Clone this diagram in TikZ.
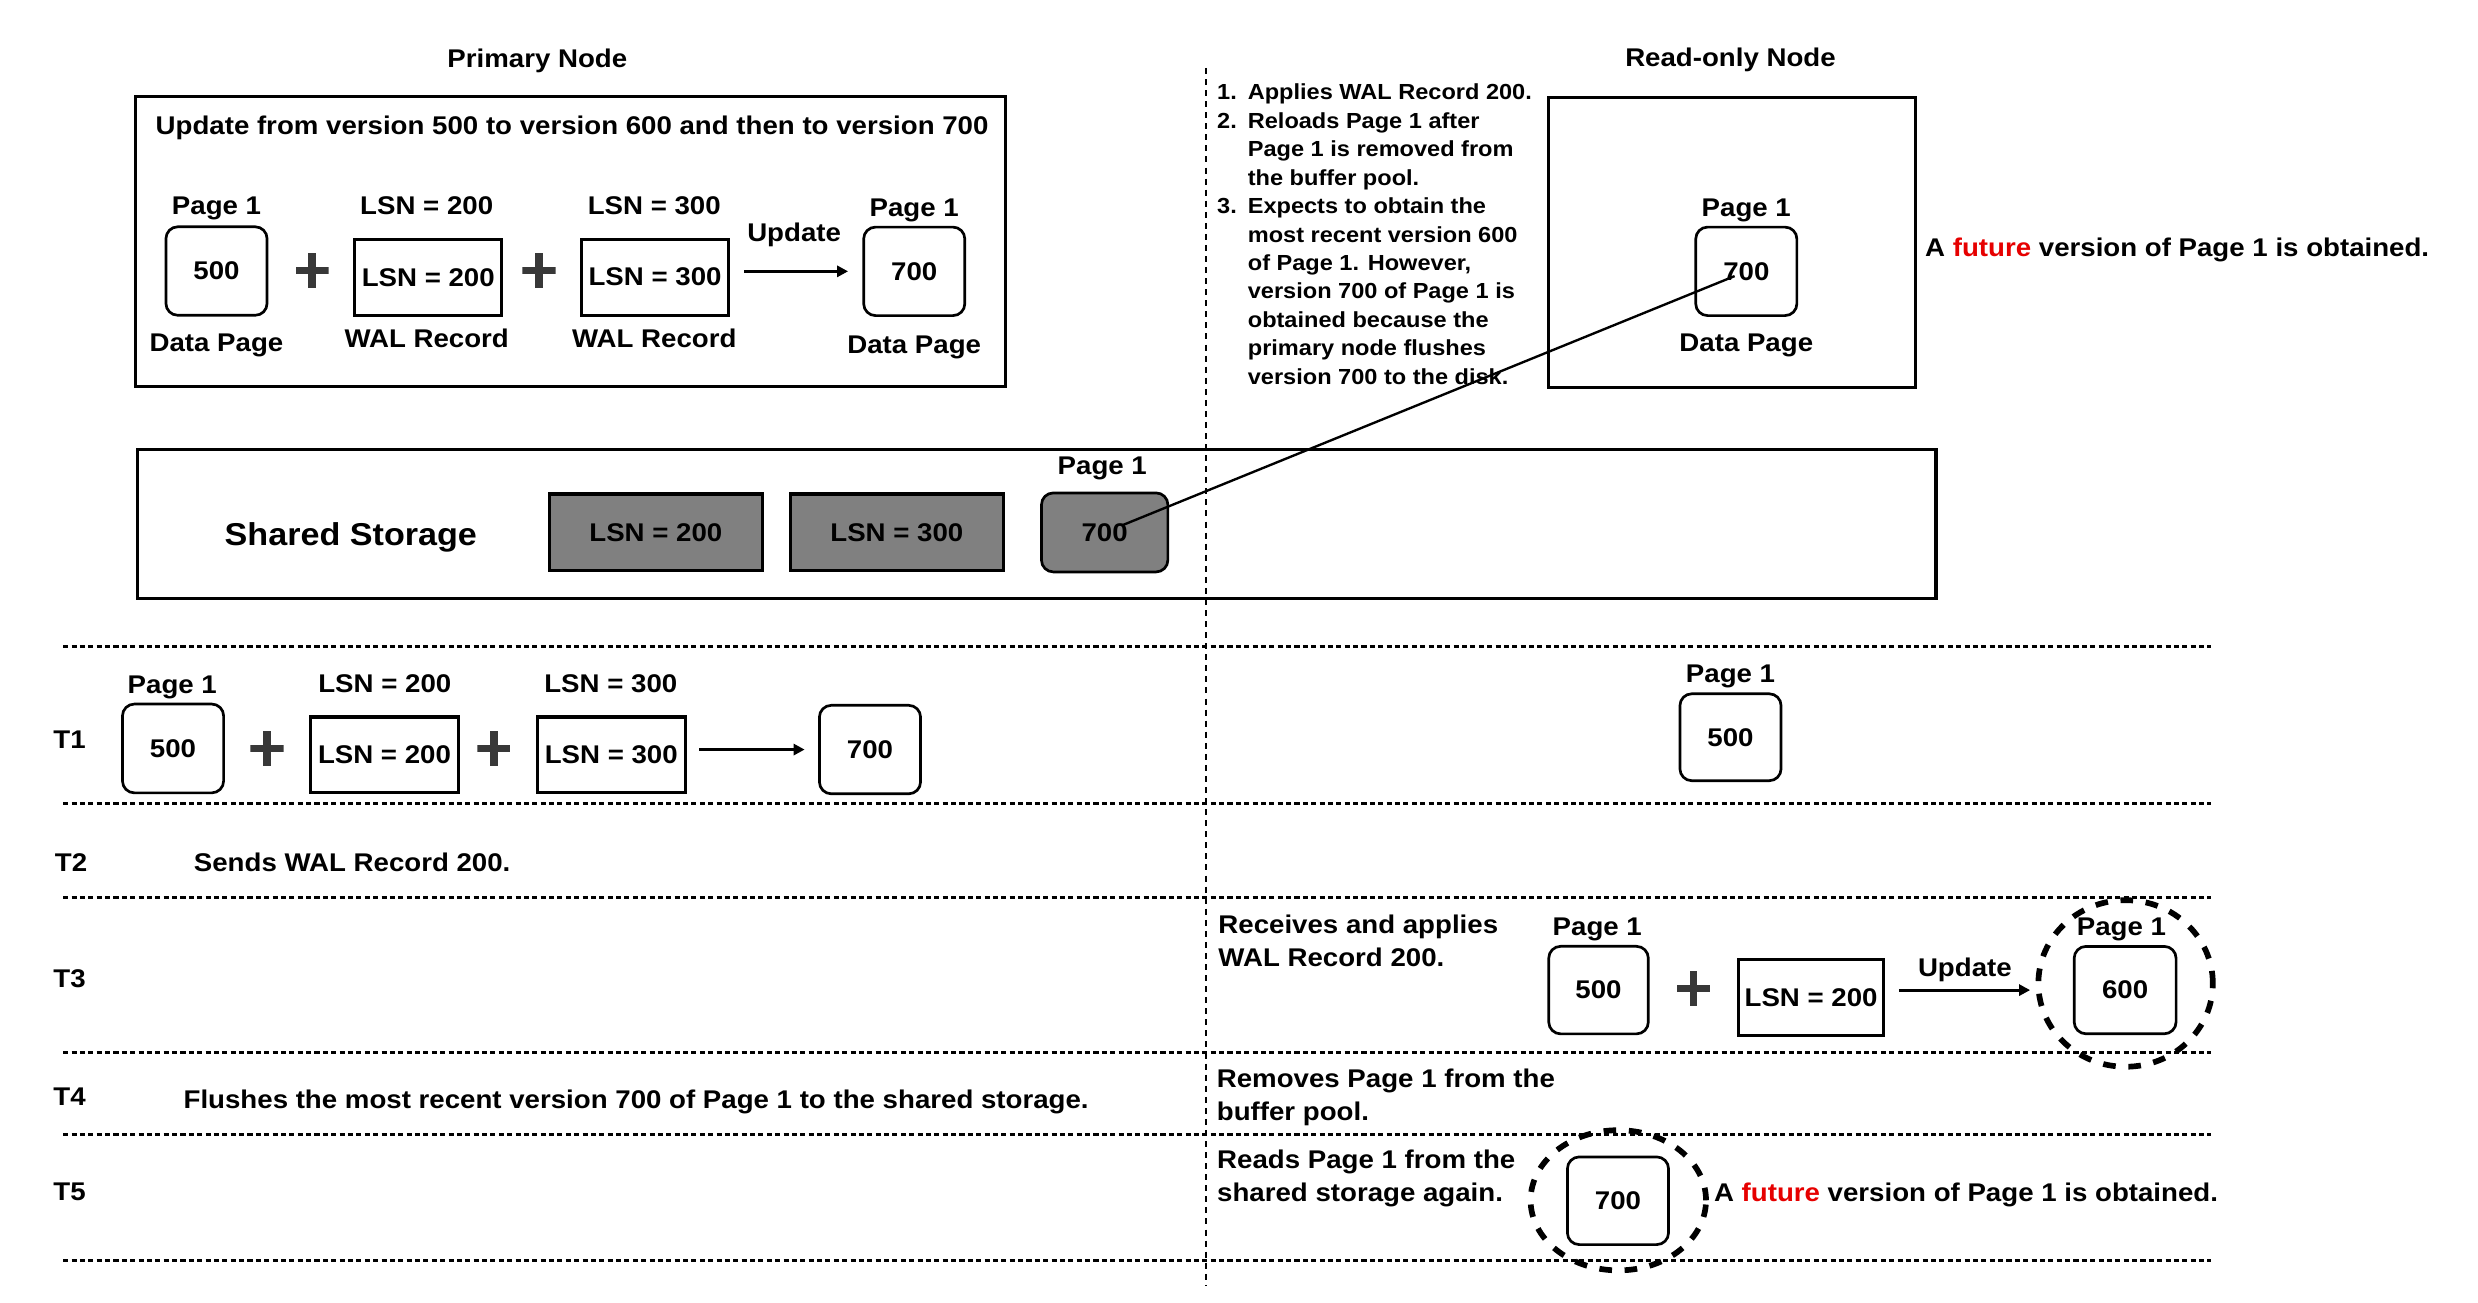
\documentclass[tikz,border=0pt]{standalone}
\usepackage{fontspec}
\setmainfont{Liberation Sans}[FakeStretch=1.08]
\usetikzlibrary{arrows.meta,shapes.geometric}
\definecolor{futred}{RGB}{230,0,0}
\definecolor{plusgray}{RGB}{56,56,56}
\definecolor{storgray}{RGB}{128,128,128}
\newcommand{\dgfont}{\bfseries\fontsize{16.2}{21}\selectfont}
\newcommand{\dgsmall}{\bfseries\fontsize{13.8}{18}\selectfont}
\newcommand{\dgbig}{\bfseries\fontsize{20}{22}\selectfont}
\begin{document}
\begin{tikzpicture}[x=1pt,y=-1pt,
  txt/.style={font=\dgfont, inner sep=0pt, yshift=-1.2pt},
  bigbox/.style={draw, line width=2pt, inner sep=0pt},
  rbox/.style={draw, line width=1.7pt, rounded corners=7.5pt, minimum width=64pt, minimum height=56pt, inner sep=0pt, font=\dgfont},
  sbox/.style={draw, line width=2pt, minimum width=93pt, minimum height=48pt, inner sep=0pt, font=\dgfont},
  gbox/.style={sbox, fill=storgray, minimum width=135pt, minimum height=48.6pt},
  plussign/.style={minimum width=21pt, minimum height=22pt, inner sep=0pt,
    path picture={
      \fill[plusgray] ([xshift=-2.3pt]path picture bounding box.north) rectangle ([xshift=2.3pt]path picture bounding box.south);
      \fill[plusgray] ([yshift=2.3pt]path picture bounding box.west) rectangle ([yshift=-2.3pt]path picture bounding box.east);}},
  arr/.style={line width=1.8pt, -{Triangle[length=7pt,width=7pt]}},
  conn/.style={line width=1.5pt},
  dotline/.style={line width=1.9pt, dash pattern=on 3.2pt off 2.1pt},
  vdash/.style={line width=1.5pt, dash pattern=on 3.8pt off 3.2pt},
  dring/.style={draw, ellipse, line width=3.6pt, dash pattern=on 8pt off 8pt, inner sep=0pt},
]
\useasboundingbox (0,0) rectangle (1568,824);

% separators
\draw[vdash] (763,43) -- (763,814);
\foreach \yy in {408.8,508.4,567.9,665.8,718.1,797.9} \draw[dotline] (40,\yy) -- (1399,\yy);

% titles
\node[txt] (ptitle) at (340,37.6) {Primary Node};
\node[txt] (rtitle) at (1095,37) {Read-only Node};

% primary node box
\node[bigbox, minimum width=550.5pt, minimum height=183.5pt] (primbox) at (361.25,153) {};
\node[txt] (uptitle) at (362,80) {Update from version 500 to version 600 and then to version 700};
\node[txt] (pA) at (137,130.8) {Page 1};
\node[rbox] (a500) at (137,171.5) {500};
\node[txt] (dpA) at (137,217.3) {Data Page};
\node[plussign] (plA) at (197.5,171) {};
\node[txt] (lA) at (270,128.7) {LSN = 200};
\node[sbox] (w200) at (271,175.4) {LSN = 200};
\node[txt] (wA) at (270,213) {WAL Record};
\node[plussign] (plB) at (341,171) {};
\node[txt] (lB) at (414,128.7) {LSN = 300};
\node[sbox] (w300) at (414.5,175.4) {LSN = 300};
\node[txt] (wB) at (414,213) {WAL Record};
\node[txt] (updA) at (502.5,147.7) {Update};
\node[txt] (pB) at (578.5,131.9) {Page 1};
\node[rbox] (a700) at (578.5,171.7) {700};
\node[txt] (dpB) at (578.5,218.4) {Data Page};
\draw[arr, shorten <=9pt, shorten >=9pt] (w300.east |- a700.west) -- (a700.west);

% read-only node box
\node[bigbox, minimum width=232pt, minimum height=183.4pt] (robox) at (1096,153.3) {};
\node[txt, font=\dgsmall, align=left, anchor=west] (steps) at (770,147) {%
\makebox[19.4pt][l]{1.}Applies WAL Record 200.\\
\makebox[19.4pt][l]{2.}Reloads Page 1 after\\
\makebox[19.4pt][l]{}Page 1 is removed from\\
\makebox[19.4pt][l]{}the buffer pool.\\
\makebox[19.4pt][l]{3.}Expects to obtain the\\
\makebox[19.4pt][l]{}most recent version 600\\
\makebox[19.4pt][l]{}of Page 1. However,\\
\makebox[19.4pt][l]{}version 700 of Page 1 is\\
\makebox[19.4pt][l]{}obtained because the\\
\makebox[19.4pt][l]{}primary node flushes\\
\makebox[19.4pt][l]{}version 700 to the disk.};
\node[txt] (pR) at (1105,131.9) {Page 1};
\node[rbox] (r700) at (1105,171.7) {700};
\node[txt] (dpR) at (1105,217.3) {Data Page};
\node[txt, anchor=west] (futA) at (1218,157) {A \textcolor{futred}{future} version of Page 1 is obtained.};

% shared storage
\node[bigbox, minimum width=1138pt, minimum height=94.3pt] (shbox) at (656,331.5) {};
\node[txt, font=\dgbig] (shlbl) at (222,338.6) {Shared Storage};
\node[gbox] (s200) at (415,336.9) {LSN = 200};
\node[gbox] (s300) at (567.5,336.9) {LSN = 300};
\node[rbox, fill=storgray, minimum width=80pt, minimum height=50pt] (s700) at (699,336.9) {700};
\node[txt] (pS) at (697.5,295.3) {Page 1};

% T1
\node[txt] (t1) at (44,467) {T1};
\node[txt] (p1a) at (109,433.5) {Page 1};
\node[rbox, minimum height=56.2pt] (b1a) at (109.5,473.6) {500};
\node[plussign] (pl1a) at (169,473.6) {};
\node[txt] (l1a) at (243.5,431.4) {LSN = 200};
\node[sbox, minimum width=93.5pt] (b1b) at (243.3,477.7) {LSN = 200};
\node[plussign] (pl1b) at (312.5,473.6) {};
\node[txt] (l1b) at (386.5,431.4) {LSN = 300};
\node[sbox, minimum width=93.5pt] (b1c) at (386.8,477.7) {LSN = 300};
\node[rbox] (b1d) at (550.5,474.3) {700};
\draw[arr, shorten <=8pt, shorten >=8.5pt] (b1c.east |- b1d.west) -- (b1d.west);
\node[txt] (p1r) at (1095,426.5) {Page 1};
\node[rbox, minimum height=55pt] (b1r) at (1095,466.5) {500};

% T2
\node[txt] (t2) at (45,544.3) {T2};
\node[txt, anchor=west] (s2) at (122.5,544.3) {Sends WAL Record 200.};

% T3
\node[txt] (t3) at (44,618) {T3};
\node[txt, align=left, anchor=west] (r3) at (770.8,594.3) {Receives and applies\\WAL Record 200.};
\node[txt] (p3a) at (1010.7,586.9) {Page 1};
\node[rbox, minimum width=63pt, minimum height=55.4pt] (b3a) at (1011.5,626.5) {500};
\node[plussign] (pl3) at (1071.5,625.5) {};
\node[sbox, minimum width=92pt] (b3b) at (1146,631) {LSN = 200};
\node[txt] (u3) at (1243.3,612.8) {Update};
\node[rbox, minimum width=64.5pt, minimum height=55.3pt] (b3c) at (1344.7,626.5) {600};
\node[txt] (p3c) at (1342.4,587) {Page 1};
\node[dring, minimum width=110.4pt, minimum height=105.4pt] (ring3) at (1345,622.3) {};
\draw[arr, shorten <=8.5pt, shorten >=27pt] (b3b.east |- b3c.west) -- (b3c.west);

% T4
\node[txt] (t4) at (44,693) {T4};
\node[txt, anchor=west] (s4) at (116,696.2) {Flushes the most recent version 700 of Page 1 to the shared storage.};
\node[txt, align=left, anchor=west] (r4) at (769.8,693) {Removes Page 1 from the\\buffer pool.};

% T5
\node[txt] (t5) at (44,753) {T5};
\node[txt, align=left, anchor=west] (r5) at (770,744.6) {Reads Page 1 from the\\shared storage again.};
\node[rbox, minimum height=55.5pt] (b5) at (1023.8,759.8) {700};
\node[dring, minimum width=111pt, minimum height=88.7pt] (ring5) at (1024,759.5) {};
\node[txt, anchor=west] (fut5) at (1084.4,755.2) {A \textcolor{futred}{future} version of Page 1 is obtained.};

% connector from shared storage to read-only node
\draw[conn, shorten <=11.5pt, shorten >=8pt] (s700.center) -- (r700.center);
\end{tikzpicture}
\end{document}
